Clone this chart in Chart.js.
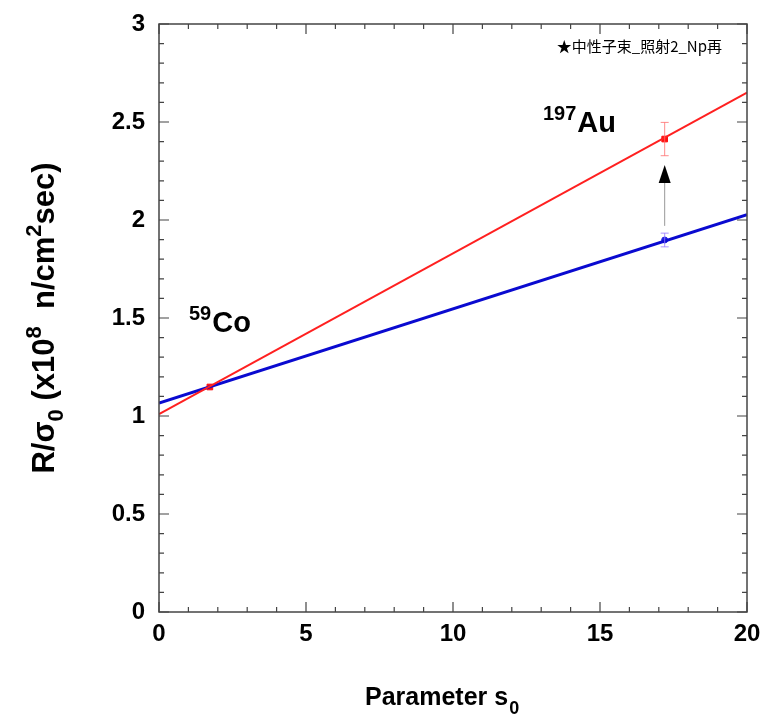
<!DOCTYPE html>
<html>
<head>
<meta charset="utf-8">
<script src="https://cdn.jsdelivr.net/npm/chart.js"></script>
<style>
  html, body { margin: 0; padding: 0; background: #fff; }
  canvas { display: block; }
</style>
</head>
<body>
<canvas id="chart" width="765" height="724"></canvas>
<script>
// フィット直線の端点（x=0 と x=20）
const lineX = [0, 20];
const redLine = [1.01, 2.65];
const blueLine = [1.066, 2.027];

// 測定点
const redPointX = [1.73, 17.2];
const redPointY = [1.148, 2.413];
const redPointErr = [0, 0.085];
const bluePointX = [17.2];
const bluePointY = [1.898];
const bluePointErr = [0.035];

// 矢印（青→赤）
const arrowX = 17.2;
const arrowFrom = 1.97;
const arrowTo = 2.28;

// 目盛り
const xTicks = [0, 5, 10, 15, 20];
const yTicks = [0, 0.5, 1, 1.5, 2, 2.5, 3];

const noteText = '★中性子束_照射2_Np再';

const toXY = (xs, ys) => xs.map((x, i) => ({ x: x, y: ys[i] }));

// 内向きの目盛り、エラーバー、矢印、文字を描くプラグイン
const decorPlugin = {
  id: 'decor',
  afterDatasetsDraw(chart) {
    const ctx = chart.ctx;
    const xs = chart.scales.x;
    const ys = chart.scales.y;
    const a = chart.chartArea;

    ctx.save();
    // 枠
    ctx.strokeStyle = '#444';
    ctx.lineWidth = 1.5;
    ctx.strokeRect(a.left, a.top, a.right - a.left, a.bottom - a.top);

    // 目盛り（内向き）
    ctx.lineWidth = 1.2;
    ctx.beginPath();
    for (let v = 0; v <= 20; v++) {
      const px = xs.getPixelForValue(v);
      const len = v % 5 === 0 ? 10 : 5;
      ctx.moveTo(px, a.bottom); ctx.lineTo(px, a.bottom - len);
      ctx.moveTo(px, a.top); ctx.lineTo(px, a.top + len);
    }
    for (let k = 0; k <= 30; k++) {
      const py = ys.getPixelForValue(k / 10);
      const len = k % 5 === 0 ? 10 : 5;
      ctx.moveTo(a.left, py); ctx.lineTo(a.left + len, py);
      ctx.moveTo(a.right, py); ctx.lineTo(a.right - len, py);
    }
    ctx.stroke();

    // エラーバー
    const errBar = (x, y, e, color) => {
      if (!e) return;
      const px = xs.getPixelForValue(x);
      const top = ys.getPixelForValue(y + e);
      const bot = ys.getPixelForValue(y - e);
      ctx.strokeStyle = color;
      ctx.lineWidth = 1;
      ctx.beginPath();
      ctx.moveTo(px, top); ctx.lineTo(px, bot);
      ctx.moveTo(px - 4, top); ctx.lineTo(px + 4, top);
      ctx.moveTo(px - 4, bot); ctx.lineTo(px + 4, bot);
      ctx.stroke();
    };
    redPointX.forEach((x, i) => errBar(x, redPointY[i], redPointErr[i], 'rgba(255,110,110,0.8)'));
    bluePointX.forEach((x, i) => errBar(x, bluePointY[i], bluePointErr[i], 'rgba(150,120,255,0.8)'));

    // 矢印
    const ax = xs.getPixelForValue(arrowX);
    const ay0 = ys.getPixelForValue(arrowFrom);
    const ay1 = ys.getPixelForValue(arrowTo);
    ctx.strokeStyle = '#999';
    ctx.lineWidth = 1;
    ctx.beginPath();
    ctx.moveTo(ax, ay0); ctx.lineTo(ax, ay1 + 16);
    ctx.stroke();
    ctx.fillStyle = '#000';
    ctx.beginPath();
    ctx.moveTo(ax, ay1);
    ctx.lineTo(ax - 6, ay1 + 18);
    ctx.lineTo(ax + 6, ay1 + 18);
    ctx.closePath();
    ctx.fill();

    // 核種ラベル
    const isoLabel = (sup, main, x, y) => {
      ctx.fillStyle = '#000';
      ctx.textAlign = 'left';
      ctx.textBaseline = 'alphabetic';
      ctx.font = 'bold 20px "Liberation Sans", Arial, sans-serif';
      ctx.fillText(sup, x, y - 12);
      const w = ctx.measureText(sup).width;
      ctx.font = 'bold 29px "Liberation Sans", Arial, sans-serif';
      ctx.fillText(main, x + w + 1, y);
    };
    isoLabel('59', 'Co', 189, 332);
    isoLabel('197', 'Au', 543, 132);

    // 右上の注記
    ctx.font = '15px "Noto Sans CJK JP", sans-serif';
    ctx.textAlign = 'right';
    ctx.textBaseline = 'middle';
    ctx.fillText(noteText, 722, 46);

    // x 軸タイトル
    ctx.textAlign = 'left';
    ctx.textBaseline = 'alphabetic';
    ctx.font = 'bold 25px "Liberation Sans", Arial, sans-serif';
    const xt = 'Parameter s';
    const xtw = ctx.measureText(xt).width;
    const xStart = 365;
    ctx.fillText(xt, xStart, 705);
    ctx.font = 'bold 18px "Liberation Sans", Arial, sans-serif';
    ctx.fillText('0', xStart + xtw + 1, 714);

    // y 軸タイトル（回転）
    ctx.translate(54, 318);
    ctx.rotate(-Math.PI / 2);
    const big = 'bold 31px "Liberation Sans", Arial, sans-serif';
    const small = 'bold 22px "Liberation Sans", Arial, sans-serif';
    const parts = [
      ['R/\u03c3', big, 0],
      ['0', small, 9],
      [' (x10', big, 0],
      ['8', small, -13],
      ['  n/cm', big, 0],
      ['2', small, -13],
      ['sec)', big, 0]
    ];
    let total = 0;
    parts.forEach(p => { ctx.font = p[1]; total += ctx.measureText(p[0]).width; });
    let cx = -total / 2;
    parts.forEach(p => {
      ctx.font = p[1];
      ctx.fillText(p[0], cx, p[2]);
      cx += ctx.measureText(p[0]).width;
    });
    ctx.restore();
  }
};

const tickFont = { family: '"Liberation Sans", Arial, sans-serif', size: 24, weight: 'bold' };

new Chart(document.getElementById('chart').getContext('2d'), {
  type: 'scatter',
  data: {
    datasets: [
      {
        data: toXY(lineX, redLine),
        showLine: true,
        borderColor: '#ff2020',
        borderWidth: 2,
        pointRadius: 0
      },
      {
        data: toXY(lineX, blueLine),
        showLine: true,
        borderColor: '#0a0ad0',
        borderWidth: 3,
        pointRadius: 0
      },
      {
        data: toXY(redPointX, redPointY),
        showLine: false,
        pointStyle: 'rect',
        pointRadius: 4,
        backgroundColor: '#ff1010',
        borderColor: '#ff1010'
      },
      {
        data: toXY(bluePointX, bluePointY),
        showLine: false,
        pointStyle: 'circle',
        pointRadius: 3,
        backgroundColor: '#2020e0',
        borderColor: '#2020e0'
      }
    ]
  },
  options: {
    responsive: false,
    animation: false,
    layout: { padding: { top: 24, right: 18, left: 0, bottom: 0 } },
    plugins: {
      legend: { display: false },
      tooltip: { enabled: false }
    },
    scales: {
      x: {
        type: 'linear',
        min: 0,
        max: 20,
        afterBuildTicks: s => { s.ticks = xTicks.map(v => ({ value: v })); },
        afterFit: s => { s.height = 112; s.paddingLeft = 0; s.paddingRight = 0; },
        grid: { display: false, drawTicks: false },
        border: { display: false },
        ticks: { font: tickFont, color: '#000', padding: 8, maxRotation: 0 }
      },
      y: {
        type: 'linear',
        min: 0,
        max: 3,
        afterBuildTicks: s => { s.ticks = yTicks.map(v => ({ value: v })); },
        afterFit: s => { s.width = 159; s.paddingTop = 0; s.paddingBottom = 0; },
        grid: { display: false, drawTicks: false },
        border: { display: false },
        ticks: { font: tickFont, color: '#000', padding: 14, callback: v => String(v) }
      }
    }
  },
  plugins: [decorPlugin]
});
</script>
</body>
</html>
